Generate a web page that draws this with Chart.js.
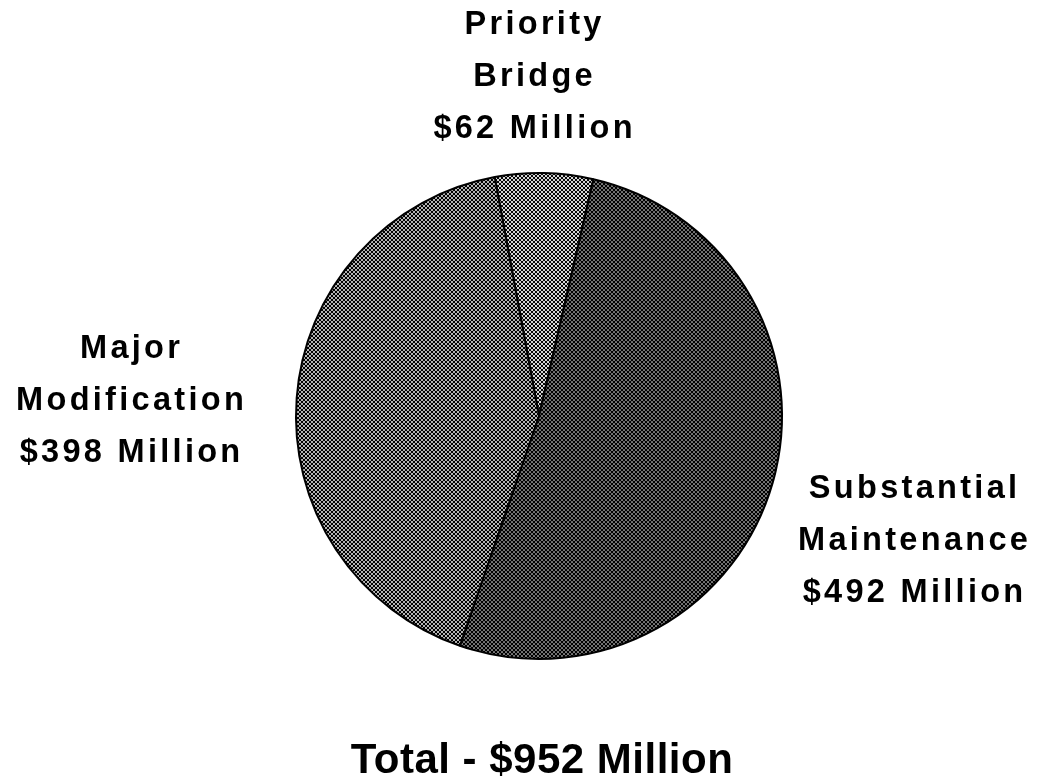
<!DOCTYPE html>
<html>
<head>
<meta charset="utf-8">
<script src="https://cdn.jsdelivr.net/npm/chart.js@4.4.0/dist/chart.umd.min.js"></script>
<style>
  html, body { margin: 0; padding: 0; background: #fff; }
  #wrap { width: 1037px; height: 784px; }
</style>
</head>
<body>
<div id="wrap"><canvas id="pie" width="1037" height="784"></canvas></div>
<script>
// slices, clockwise from the top
const categories = ['Priority Bridge', 'Substantial Maintenance', 'Major Modification'];
const amounts = [62, 492, 398]; // $ million
const labelLines = [
  ['Priority', 'Bridge'],
  ['Substantial', 'Maintenance'],
  ['Major', 'Modification']
];
const totalText = 'Total - $' + amounts.reduce((a, b) => a + b, 0) + ' Million';

// halftone-ish fill, dot radius sets how dark it reads
function dots(r) {
  const c = document.createElement('canvas');
  c.width = 4; c.height = 4;
  const g = c.getContext('2d');
  g.fillStyle = '#fff';
  g.fillRect(0, 0, 4, 4);
  g.fillStyle = '#000';
  [[2, 2], [0, 0], [4, 0], [0, 4], [4, 4]].forEach(([x, y]) => {
    g.beginPath();
    g.arc(x, y, r, 0, Math.PI * 2);
    g.fill();
  });
  return g.createPattern(c, 'repeat');
}

const ctx = document.getElementById('pie');
const fills = [dots(1.17), dots(1.5), dots(1.36)];

// text anchors (canvas px): center x, first baseline
const labelPos = [
  { x: 533, y: 34 },
  { x: 913, y: 498 },
  { x: 130, y: 358 }
];
const lineGap = 52;

const labelsPlugin = {
  id: 'sliceLabels',
  afterDraw(chart) {
    const c = chart.ctx;
    c.save();
    c.fillStyle = '#000';
    c.textAlign = 'center';
    c.textBaseline = 'alphabetic';
    c.font = 'bold 32.5px "Liberation Sans", Arial, sans-serif';
    c.letterSpacing = '3.3px';
    categories.forEach((cat, i) => {
      const lines = labelLines[i].concat(['$' + amounts[i] + ' Million']);
      lines.forEach((t, j) => {
        c.fillText(t, labelPos[i].x + 1.6, labelPos[i].y + j * lineGap);
      });
    });
    c.font = 'bold 42px "Liberation Sans", Arial, sans-serif';
    c.letterSpacing = '0.5px';
    c.fillText(totalText, 542, 773);
    c.restore();
  }
};

new Chart(ctx, {
  type: 'pie',
  data: {
    labels: categories,
    datasets: [{
      data: amounts,
      backgroundColor: fills,
      borderColor: '#000',
      borderWidth: 2
    }]
  },
  options: {
    responsive: false,
    animation: false,
    rotation: -10.5,
    layout: { padding: { left: 295, right: 254, top: 172, bottom: 124 } },
    plugins: {
      legend: { display: false },
      tooltip: { enabled: false }
    }
  },
  plugins: [labelsPlugin]
});
</script>
</body>
</html>
